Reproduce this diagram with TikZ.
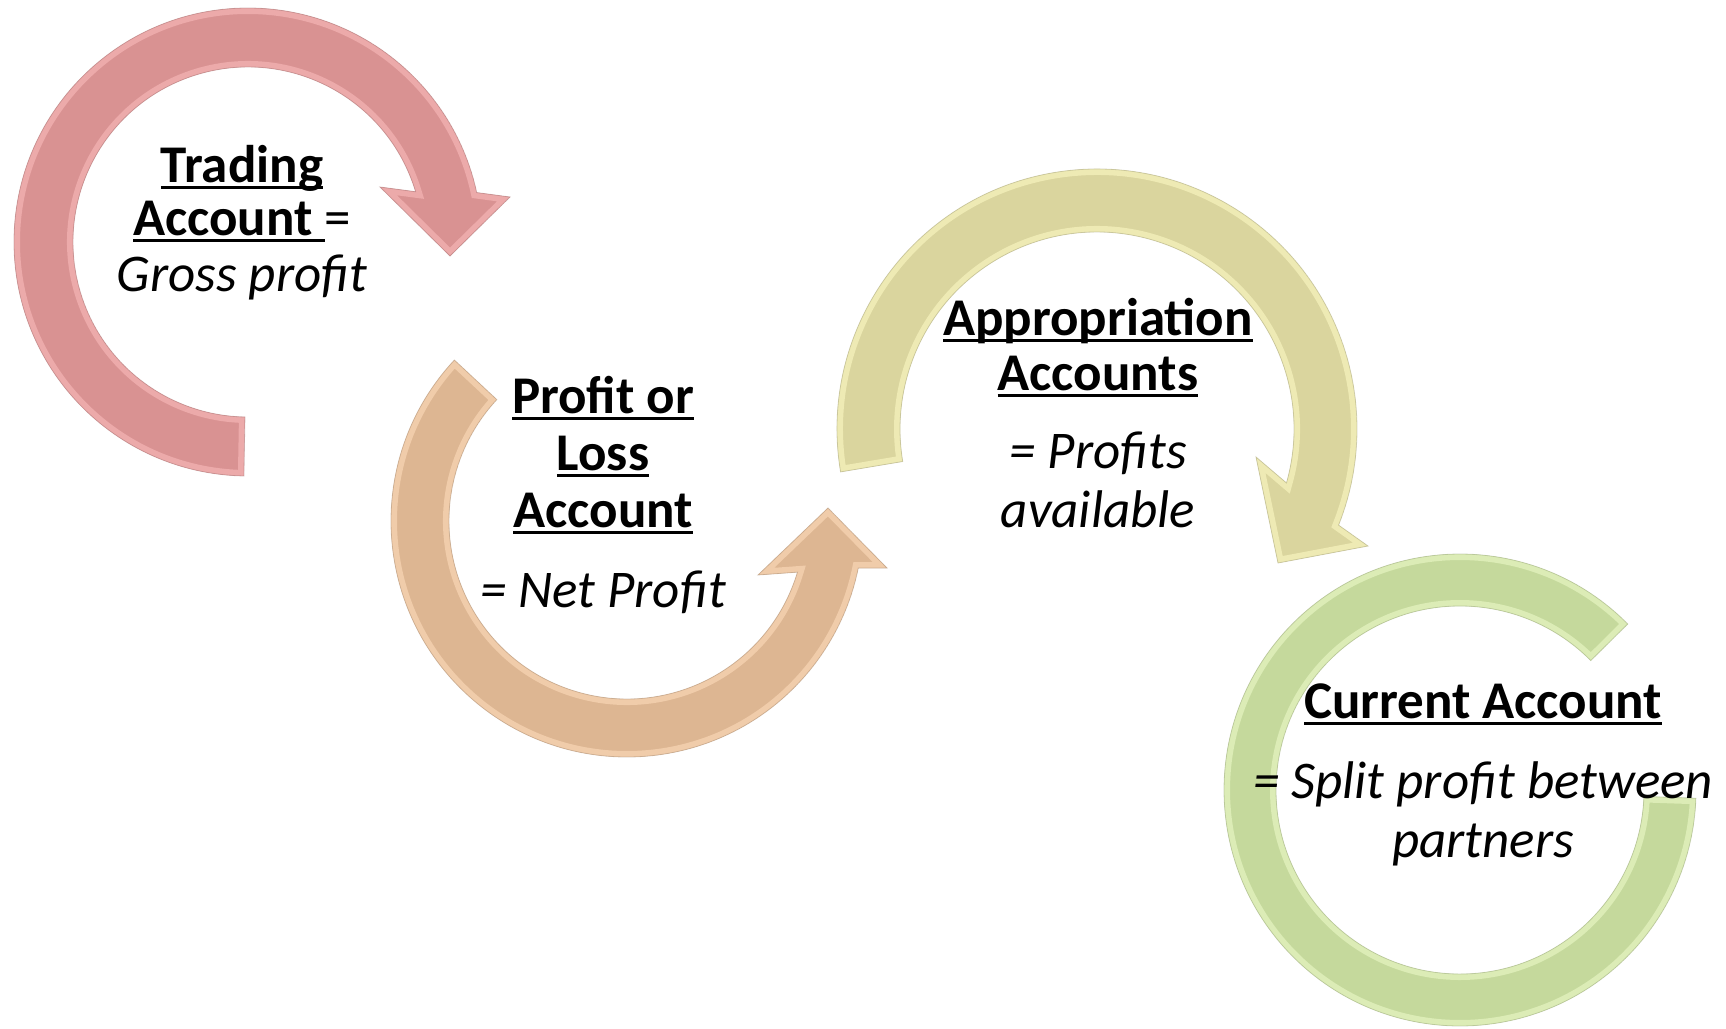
\documentclass[tikz,border=0pt]{standalone}
\usepackage{fontspec}
\setmainfont{Carlito}
\usetikzlibrary{calc}
\newcommand\ulx[1]{\setbox0\hbox{#1}\rlap{\vrule width \wd0 height -3.5pt depth 6.5pt}\box0}
\definecolor{redA}{RGB}{217,146,146}\definecolor{redL}{RGB}{236,170,170}
\definecolor{oraA}{RGB}{221,182,146}\definecolor{oraL}{RGB}{240,204,170}
\definecolor{yelA}{RGB}{218,213,158}\definecolor{yelL}{RGB}{238,234,180}
\definecolor{greA}{RGB}{197,217,156}\definecolor{greL}{RGB}{220,236,182}
\newcommand\bandshape[3]{%
  \begin{scope}\clip #1; \fill[#2] #1; \draw[#3, line width=12pt] #1;\end{scope}
  \draw[#2!75!black, line width=0.8pt, opacity=0.45] #1;}
\begin{document}
\begin{tikzpicture}[x=1pt,y=1pt,
  every node/.style={inner sep=0pt, anchor=base, font=\fontsize{53}{56}\selectfont},
  titletext/.style={font=\fontsize{53}{56}\selectfont\bfseries},
  subtext/.style={font=\fontsize{53}{56}\selectfont\itshape}]
\fill[white] (0,0) rectangle (1726,-1028);
\useasboundingbox (0,0) rectangle (1726,-1028);
\coordinate (rc) at (248,-242);
\coordinate (oc) at (627,-521);
\coordinate (yc) at (1097,-429);
\coordinate (gc) at (1460,-790);
\def\redpath{($(rc)+(269:234)$) arc[start angle=269,end angle=12.2,radius=234] -- (510,-197) -- (450,-256) -- (380,-187) -- ($(rc)+(16.7:175)$) arc[start angle=16.7,end angle=269,radius=175] -- cycle}
\def\orangepath{($(oc)+(137:236)$) arc[start angle=137,end angle=348.5,radius=236] -- (887,-568) -- (828,-508) -- (758,-575) -- ($(oc)+(343.3:178)$) arc[start angle=343.3,end angle=137,radius=178] -- cycle}
\def\yellowpath{($(yc)+(189.5:260)$) arc[start angle=189.5,end angle=-21.7,radius=260] -- (1368,-546) -- (1278,-563) -- (1256,-457) -- ($(yc)+(-15.9:197)$) arc[start angle=-15.9,end angle=189.5,radius=197] -- cycle}
\def\greenpath{($(gc)+(44.7:236)$) arc[start angle=44.7,end angle=358,radius=236] -- ($(gc)+(358:184)$) arc[start angle=358,end angle=44.7,radius=184] -- cycle}
\bandshape{\redpath}{redA}{redL}
\bandshape{\orangepath}{oraA}{oraL}
\bandshape{\yellowpath}{yelA}{yelL}
\bandshape{\greenpath}{greA}{greL}
% texts
\node[titletext] (ta1) at (242,-182) {\ulx{Trading}};
\node (ta2) at (242,-235) {\ulx{\bfseries Account\ }=};
\node[subtext] (ta3) at (242,-291) {Gross profit};
\node[titletext] (tb1) at (603,-413) {\ulx{Profit or}};
\node[titletext] (tb2) at (603,-470) {\ulx{Loss}};
\node[titletext] (tb3) at (603,-527) {\ulx{Account}};
\node[subtext] (tb4) at (603,-607) {= Net Profit};
\node[titletext] (tc1) at (1098,-335) {\ulx{Appropriation}};
\node[titletext] (tc2) at (1098,-390) {\ulx{Accounts}};
\node[subtext] (tc3) at (1098,-468) {= Profits};
\node[subtext] (tc4) at (1098,-527) {available};
\node[titletext] (td1) at (1483,-718) {\ulx{Current Account}};
\node[subtext] (td2) at (1483,-798) {= Split profit between};
\node[subtext] (td3) at (1483,-857) {partners};
\end{tikzpicture}
\end{document}
